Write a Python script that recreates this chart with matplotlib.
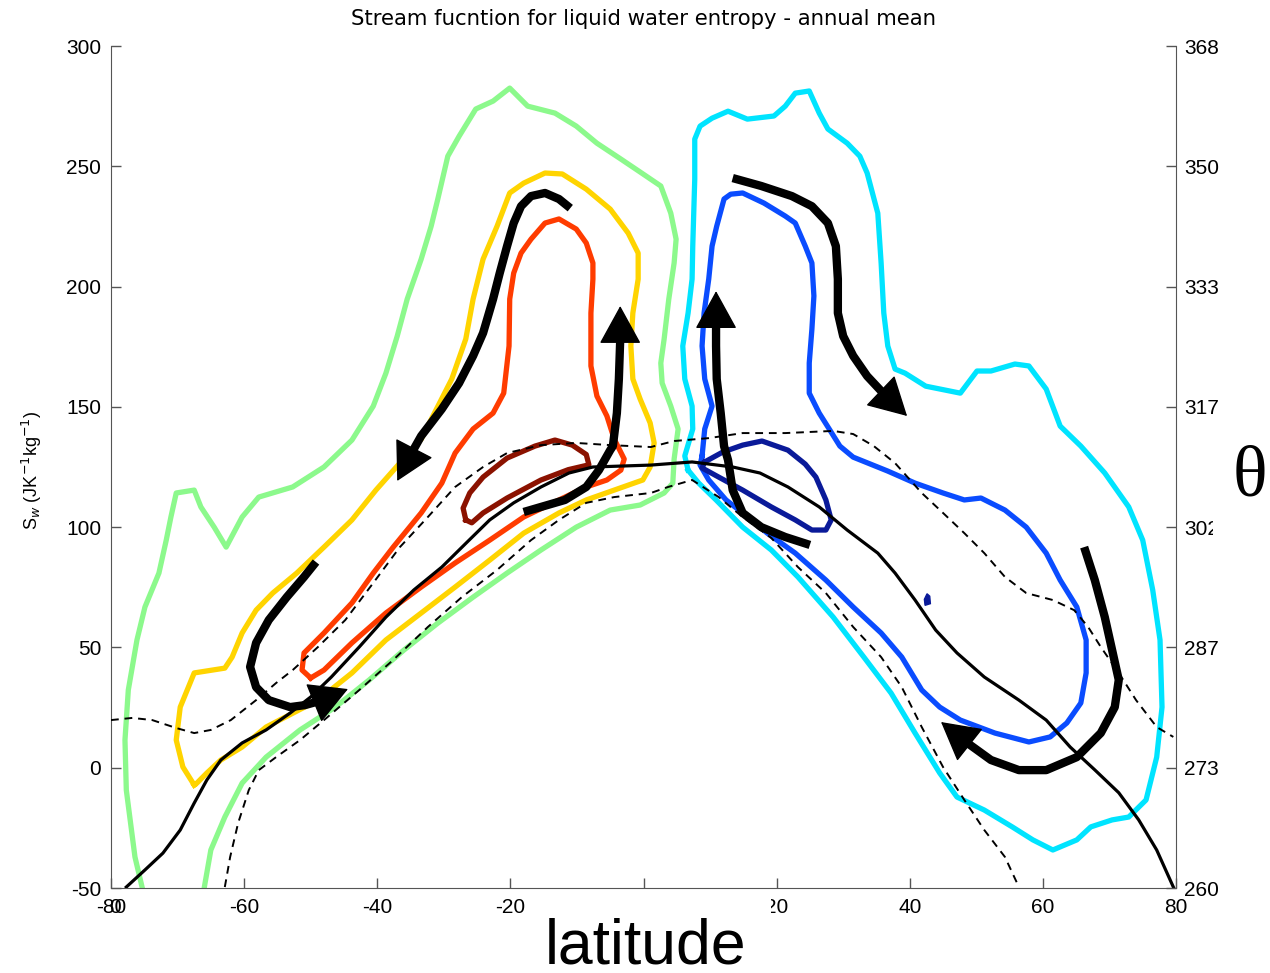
import numpy as np
import matplotlib.pyplot as plt
from matplotlib.patches import Rectangle

plt.rcParams['font.family'] = ['Liberation Sans', 'DejaVu Sans']
plt.rcParams['axes.unicode_minus'] = False

# stream function contours (latitude, S_lw)
green_lat = [-75.3, -76.4, -77.7, -77.9, -77.4, -76.1, -74.9, -72.8, -71.7, -71.0, -70.2, -67.5, -66.5, -64.5,
             -62.7, -60.3, -57.8, -52.7, -48.0, -43.8, -40.6, -38.7, -37.0, -35.5, -33.4, -31.9, -30.9, -29.4,
             -27.7, -25.2, -22.6, -20.1, -17.4, -13.3, -10.1, -7.0, -3.4, -0.5, 2.6, 4.1, 4.9, 4.6, 3.8, 3.1,
             2.6, 2.8, 4.1, 5.2, 4.6, 4.4, 3.1, -0.5, -5.0, -10.1, -15.4, -20.5, -25.6, -30.9, -36.0, -41.2,
             -46.3, -51.6, -56.7, -60.3, -62.9, -65.0, -66.0]
green_sw = [-50, -37.1, -9.3, 11.5, 32.3, 53.1, 66.8, 80.9, 94.6, 104.2, 114.2, 115.4, 108.4, 100.0,
            91.7, 104.2, 112.5, 116.7, 125.0, 136.2, 150.3, 164.0, 179.4, 194.8, 211.4, 225.1, 236.4, 254.2,
            262.5, 273.8, 277.1, 282.5, 275.0, 272.1, 266.7, 259.6, 253.0, 247.6, 241.8, 230.5, 219.7, 209.8,
            194.8, 178.2, 168.2, 159.9, 150.3, 140.8, 128.3, 118.3, 114.2, 109.2, 107.1, 100.0, 90.5, 80.9,
            70.9, 60.1, 48.9, 36.5, 25.2, 15.7, 4.4, -6.4, -20.5, -34.2, -50]

gold_lat = [-67.5, -69.2, -70.2, -69.6, -67.5, -62.9, -61.8, -60.3, -58.2, -55.7, -52.1, -48.0, -43.8, -40.2,
            -37.0, -33.4, -28.8, -26.7, -25.6, -24.1, -22.0, -20.1, -18.0, -14.8, -12.2, -8.6, -5.0, -2.3,
            -0.8, -0.8, -1.6, -1.9, -1.6, -0.5, 1.0, 1.6, 1.0, -0.1, -4.4, -8.6, -12.7, -18.0, -23.1, -28.3,
            -33.4, -38.7, -43.8, -48.9, -56.7, -60.3, -63.5, -65.6, -67.1]
gold_sw = [-7.2, 0.3, 11.5, 25.2, 39.4, 41.4, 46.0, 56.0, 65.5, 72.6, 80.9, 91.7, 103.0, 115.4,
           125.4, 136.6, 161.6, 178.2, 194.8, 211.4, 225.1, 238.9, 243.0, 247.2, 246.8, 240.5, 232.2, 222.2,
           213.9, 203.1, 189.0, 175.3, 161.6, 153.2, 143.3, 135.0, 125.0, 119.6, 115.4, 111.3, 105.9, 97.5,
           86.3, 75.1, 64.3, 53.1, 39.4, 28.1, 16.9, 8.6, 3.2, -2.2, -6.4]

red_lat = [-50.0, -51.3, -51.0, -48.0, -43.8, -40.6, -37.6, -33.4, -30.3, -28.3, -25.6, -22.6, -21.0, -20.2,
           -20.1, -19.5, -18.4, -16.9, -14.8, -12.7, -10.1, -8.6, -7.6, -7.6, -7.9, -7.9, -7.0, -5.5, -4.4,
           -2.9, -3.4, -5.5, -8.6, -12.7, -18.0, -23.1, -28.3, -33.4, -38.7, -43.8, -48.0]
red_sw = [37.3, 40.6, 47.7, 56.0, 68.5, 80.9, 91.7, 105.9, 118.3, 130.8, 140.8, 147.4, 155.7, 175.3,
          194.8, 205.6, 213.9, 219.7, 226.4, 228.1, 223.9, 218.1, 209.8, 203.1, 189.0, 167.0, 154.5, 146.2,
          136.6, 128.3, 123.7, 119.6, 116.7, 111.3, 104.2, 94.6, 85.1, 75.1, 64.3, 51.9, 40.6]

darkred_lat = [-26.7, -27.1, -26.1, -24.1, -20.5, -16.3, -13.3, -10.7, -8.6, -8.2, -11.3, -15.4, -20.5, -24.1, -25.8]
darkred_sw = [103.0, 107.9, 114.2, 120.8, 128.7, 133.7, 136.2, 134.1, 130.2, 125.9, 123.9, 119.6, 112.1, 105.9, 101.8]

cyan_lat = [6.7, 6.2, 7.4, 7.3, 6.2, 5.9, 6.7, 7.3, 7.4, 7.7, 7.7, 8.5, 10.3, 12.7, 15.6, 19.6, 21.3, 22.8,
            24.9, 26.4, 27.7, 30.6, 32.5, 33.6, 35.2, 35.7, 36.1, 36.7, 37.8, 39.3, 42.4, 47.6, 50.1, 52.2,
            55.8, 57.9, 60.5, 62.6, 65.7, 69.3, 72.9, 75.0, 76.5, 77.6, 77.9, 77.1, 75.5, 72.9, 70.4, 67.2,
            65.1, 61.5, 58.5, 55.4, 51.2, 47.1, 44.5, 40.8, 37.2, 33.1, 28.5, 23.2, 19.2, 14.9, 10.9, 8.3]
cyan_sw = [123.7, 129.6, 140.8, 150.3, 161.6, 175.3, 189.0, 203.1, 216.8, 244.7, 261.3, 266.7, 270.0, 272.9,
           269.6, 270.9, 275.0, 280.4, 281.3, 272.1, 265.5, 259.6, 254.2, 247.2, 230.5, 209.8, 189.0, 175.3,
           165.7, 164.0, 158.6, 155.7, 164.9, 164.9, 167.8, 167.0, 157.4, 142.0, 133.7, 122.5, 108.4, 94.6,
           73.9, 53.1, 25.2, 4.4, -13.4, -20.5, -21.7, -24.6, -30.0, -34.2, -30.0, -24.6, -17.6, -12.2, -2.2,
           14.4, 31.0, 46.0, 62.6, 79.3, 90.5, 100.0, 111.3, 118.3]

blue_lat = [8.8, 9.2, 10.3, 9.2, 8.8, 9.1, 9.8, 10.3, 11.0, 12.1, 13.1, 14.9, 18.1, 21.3, 22.8, 24.3, 25.3,
            25.6, 25.3, 24.9, 24.9, 26.4, 27.9, 29.5, 31.5, 36.7, 40.8, 45.0, 48.2, 50.7, 54.3, 57.5, 60.5,
            62.6, 65.1, 66.5, 66.5, 65.7, 63.6, 61.1, 57.9, 52.8, 47.6, 44.5, 41.8, 38.8, 35.7, 31.5, 27.4,
            22.8, 18.6, 14.9, 12.4, 9.8, 8.5]
blue_sw = [129.6, 140.8, 150.3, 161.6, 175.3, 189.0, 203.1, 216.8, 225.1, 236.4, 238.4, 238.9, 234.7, 229.3,
           226.4, 216.8, 209.8, 196.1, 182.3, 168.2, 155.7, 147.4, 140.8, 133.7, 129.1, 123.3, 118.3, 114.2,
           111.3, 112.1, 107.1, 100.0, 89.2, 78.0, 66.8, 53.1, 39.4, 26.9, 18.6, 12.8, 10.7, 14.4, 19.8,
           25.2, 32.3, 46.0, 56.0, 66.8, 78.0, 89.2, 97.5, 105.9, 111.3, 119.6, 125.8]

navy_lat = [9.2, 11.9, 14.9, 17.8, 21.7, 24.3, 25.9, 27.4, 28.2, 27.4, 25.3, 22.8, 19.2, 14.9, 11.3, 8.8]
navy_sw = [127.1, 131.2, 134.1, 135.8, 132.0, 126.2, 120.8, 111.3, 103.0, 98.8, 98.8, 103.0, 108.4, 115.4, 120.8, 124.6]

spot_lat = [42.3, 43.1, 43.0, 42.6, 42.2]
spot_sw = [67.5, 68.2, 71.3, 72.3, 70.0]

# temperature lines
solid_lat = [-77.7, -74.9, -72.2, -69.6, -67.5, -65.6, -63.5, -60.3, -56.7, -53.1, -50.0, -46.9, -42.7, -38.7,
             -34.5, -30.3, -26.2, -23.1, -19.5, -15.4, -11.2, -7.6, 1.1, 7.3, 13.4, 17.5, 21.7, 26.4, 30.6,
             35.2, 37.8, 40.8, 43.9, 47.1, 51.2, 56.4, 60.5, 64.1, 67.8, 71.4, 74.4, 77.1, 79.6]
solid_sw = [-49.6, -42.5, -35.5, -25.9, -14.7, -5.1, 3.2, 10.3, 15.7, 22.7, 29.4, 37.7, 50.2, 62.6,
            73.9, 83.4, 94.6, 103.0, 110.1, 116.7, 122.5, 125.0, 125.8, 127.1, 125.0, 122.5, 116.7, 108.4,
            98.8, 89.2, 80.9, 69.7, 57.2, 47.7, 37.7, 28.1, 19.8, 8.6, -0.9, -10.4, -21.7, -34.2, -49.6]

dash_hi_lat = [-80, -76.8, -73.8, -70.2, -67.5, -65.0, -62.0, -58.2, -55.2, -52.7, -48.9, -44.8, -40.6, -36.6,
               -32.4, -28.3, -24.1, -20.5, -15.4, -10.1, -5.0, 1.1, 4.6, 9.8, 14.9, 21.3, 28.5, 31.5, 34.6,
               37.8, 41.8, 45.0, 48.2, 51.2, 54.3, 57.5, 61.5, 64.7, 66.8, 68.7, 71.4, 74.0, 77.1, 79.6]
dash_hi_sw = [19.8, 20.7, 19.8, 16.5, 14.4, 15.7, 19.8, 28.1, 35.2, 40.6, 50.2, 61.4, 76.8, 91.7,
              104.2, 116.7, 125.0, 130.8, 134.1, 135.0, 134.1, 133.3, 135.8, 137.0, 139.1, 139.1, 140.0, 138.7,
              133.7, 126.6, 114.2, 105.9, 97.5, 89.2, 79.3, 72.6, 69.7, 65.5, 58.5, 50.2, 39.4, 28.1, 16.9, 12.8]

dash_lo_lat = [-62.9, -62.1, -60.9, -59.3, -57.8, -55.2, -51.6, -48.0, -42.7, -37.6, -32.4, -27.3, -22.0, -16.9,
               -12.7, -8.6, -4.4, 1.1, 3.7, 7.3, 11.3, 14.9, 19.2, 23.2, 27.4, 31.5, 35.7, 38.8, 41.8, 45.0,
               48.2, 51.2, 54.3, 56.4]
dash_lo_sw = [-49.6, -37.1, -23.0, -9.3, -1.0, 4.4, 11.5, 19.8, 32.3, 44.8, 58.5, 70.9, 82.2, 94.6,
              103.0, 110.1, 112.5, 114.2, 116.7, 119.6, 112.5, 104.2, 95.5, 83.4, 72.6, 58.5, 46.0, 33.5,
              16.9, 0.3, -13.4, -25.9, -37.1, -49.6]

# circulation arrows, last point is the arrow tip
arrow_paths = [
    ([-11.0, -12.7, -14.8, -16.9, -18.4, -19.5, -20.5, -21.6, -22.6, -24.1, -25.6, -27.7, -30.3, -33.4, -34.5, -37.0],
     [232.6, 236.4, 238.9, 237.6, 233.4, 226.4, 216.8, 205.6, 194.8, 180.7, 171.2, 159.9, 149.1, 137.9, 132.5, 119.2]),
    ([-18.0, -15.4, -11.8, -8.6, -6.7, -5.0, -4.6, -4.0, -3.7, -3.5, -3.5],
     [106.3, 108.4, 111.3, 116.7, 123.7, 132.0, 133.7, 147.4, 161.6, 177.8, 191.9]),
    ([-49.2, -51.0, -53.6, -56.3, -58.2, -59.1, -58.2, -56.3, -53.1, -50.9, -49.2, -44.4],
     [85.5, 79.3, 70.9, 61.4, 51.9, 41.9, 33.5, 28.1, 25.2, 26.0, 27.3, 32.7]),
    ([13.4, 17.7, 22.3, 25.3, 27.7, 28.9, 29.2, 29.2, 30.0, 31.5, 33.6, 36.0, 39.6],
     [245.1, 241.8, 237.6, 233.4, 226.4, 216.8, 203.1, 189.0, 179.4, 171.2, 162.8, 155.7, 146.2]),
    ([25.0, 21.3, 17.7, 14.9, 13.4, 12.7, 12.1, 11.6, 11.0, 10.9, 10.9, 10.9],
     [92.6, 95.9, 100.0, 105.9, 115.4, 127.9, 133.7, 147.4, 161.6, 175.3, 184.8, 198.1]),
    ([66.2, 67.8, 69.3, 70.5, 71.4, 70.8, 68.7, 65.1, 60.5, 56.4, 52.2, 48.9, 44.7],
     [91.7, 78.0, 62.6, 47.7, 36.5, 25.2, 14.4, 4.4, -1.0, -1.0, 3.2, 9.8, 19.0]),
]

theta_ticks = [300, 250, 200, 150, 100, 50, 0, -50]
theta_labels = ['368', '350', '333', '317', '302', '287', '273', '260']

fig = plt.figure(figsize=(12.7, 9.73), dpi=100)
ax = fig.add_axes([111/1270, 85/973, 1065/1270, 842/973])

contour_lw = 3.8
ax.plot(green_lat, green_sw, color='#8cf98c', linewidth=contour_lw, zorder=2)
for lat, sw, col in [(gold_lat, gold_sw, '#ffd400'), (red_lat, red_sw, '#ff3c00'),
                     (darkred_lat, darkred_sw, '#8b1200'), (cyan_lat, cyan_sw, '#00e4ff'),
                     (blue_lat, blue_sw, '#0a4cff'), (navy_lat, navy_sw, '#0a1a99')]:
    ax.plot(lat + lat[:1], sw + sw[:1], color=col, linewidth=contour_lw, zorder=2)
ax.fill(spot_lat, spot_sw, color='#0a1a99', zorder=2)

ax.plot(solid_lat, solid_sw, color='black', linewidth=2.3, zorder=3)
ax.plot(dash_hi_lat, dash_hi_sw, color='black', linewidth=1.4, dashes=(4, 3), zorder=3)
ax.plot(dash_lo_lat, dash_lo_sw, color='black', linewidth=1.4, dashes=(4, 3), zorder=3)

for lat, sw in arrow_paths:
    ax.plot(lat[:-1], sw[:-1], color='black', linewidth=6, solid_capstyle='butt',
            solid_joinstyle='round', zorder=5)
    ax.annotate('', xy=(lat[-1], sw[-1]), xytext=(lat[-2], sw[-2]),
                arrowprops=dict(arrowstyle='-|>,head_length=1.0,head_width=0.55', mutation_scale=25,
                                color='black', lw=1, shrinkA=0, shrinkB=0), zorder=6)

ax.set_xlim(-80, 80)
ax.set_ylim(-50, 300)
ax.set_xticks([-80, -60, -40, -20, 0, 20, 40, 60, 80])
ax.set_yticks([-50, 0, 50, 100, 150, 200, 250, 300])
ax.tick_params(direction='in', length=7, width=1, color='#555555', labelsize=15, pad=7)
ax.spines['top'].set_visible(False)
ax.spines['right'].set_visible(False)
for s in ['left', 'bottom']:
    ax.spines[s].set_color('#555555')
ax.text(-79.4, -0.012, '0', transform=ax.get_xaxis_transform(), ha='center', va='top', fontsize=15)

ax2 = ax.twinx()
ax2.set_ylim(-50, 300)
ax2.set_yticks(theta_ticks)
ax2.set_yticklabels(theta_labels)
ax2.tick_params(direction='in', length=7, width=1, color='#555555', labelsize=15, pad=6)
for s in ['top', 'left', 'bottom']:
    ax2.spines[s].set_visible(False)
ax2.spines['right'].set_color('#555555')

fig.text(643.5/1270, 1 - 19/973, 'Stream fucntion for liquid water entropy - annual mean',
         ha='center', va='center', fontsize=15.3, family='DejaVu Sans')
fig.text(32/1270, 1 - 470/973, r'S$_{w}$ (JK$^{-1}$kg$^{-1}$)', rotation=90,
         ha='center', va='center', fontsize=13)

# white boxes behind the big axis labels
fig.add_artist(Rectangle((530/1270, 0), 241/1270, 80/973, transform=fig.transFigure,
                         facecolor='white', edgecolor='none', zorder=3))
fig.add_artist(Rectangle((1213/1270, 1 - 548/973), 57/1270, 128/973, transform=fig.transFigure,
                         facecolor='white', edgecolor='none', zorder=3))
fig.text(646/1270, 9/973, 'latitude', ha='center', va='baseline', fontsize=45, zorder=4)
fig.text(1250/1270, 1 - 495/973, '\u03b8', ha='center', va='baseline', fontsize=52,
         family='Liberation Serif', zorder=4)

plt.savefig('out.png', dpi=100)
